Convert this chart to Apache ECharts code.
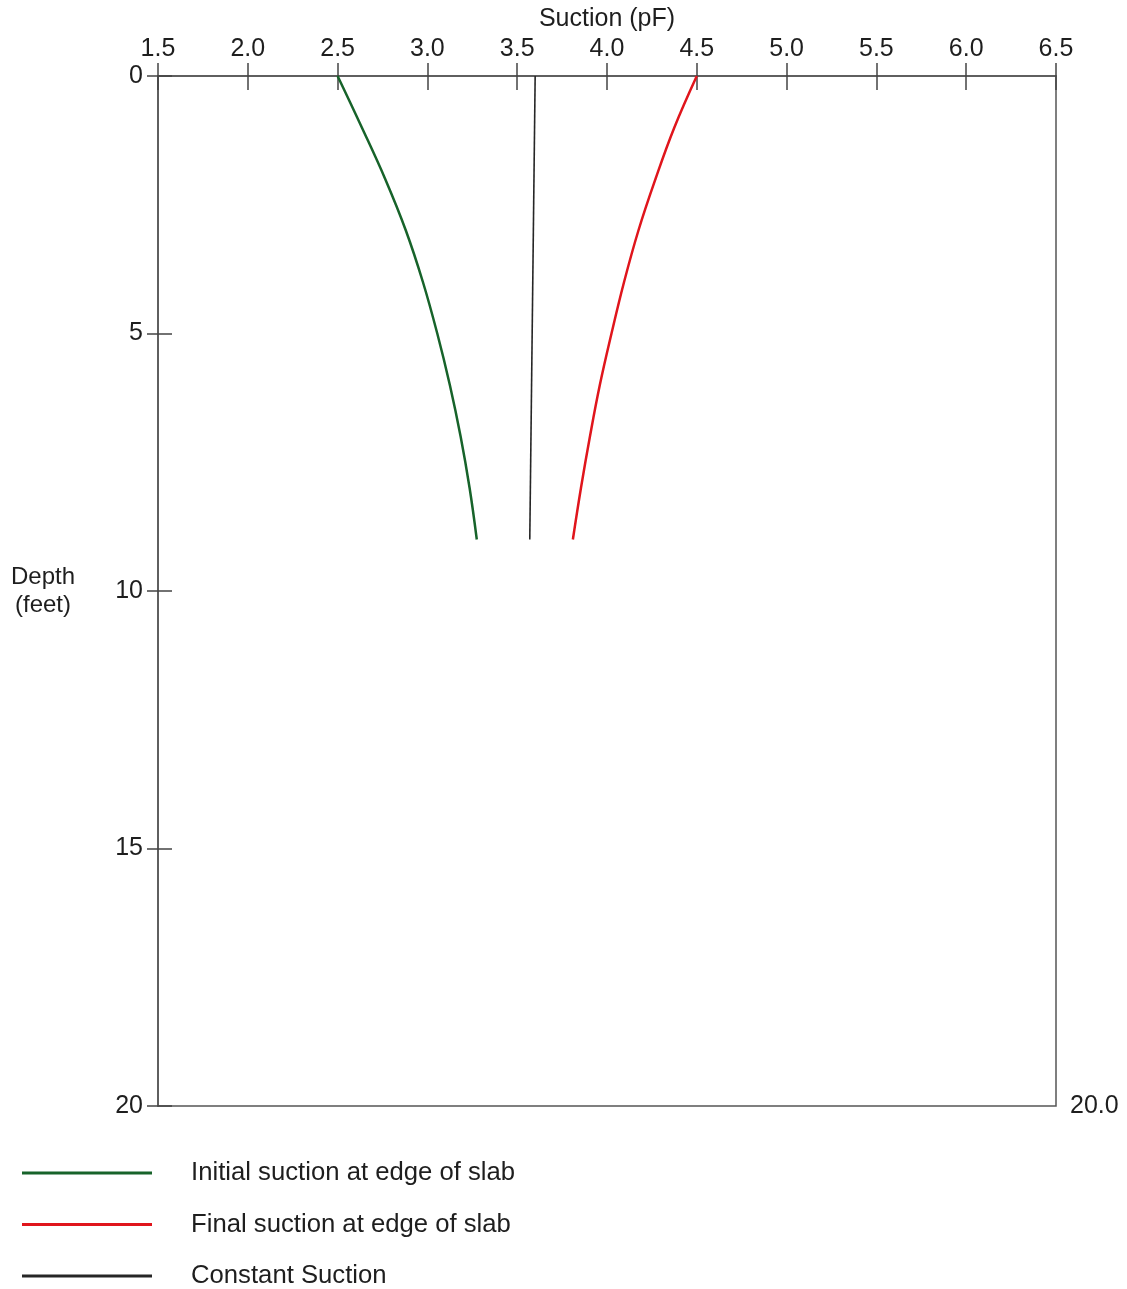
<!DOCTYPE html>
<html>
<head>
<meta charset="utf-8">
<title>Suction profile</title>
<script src="https://cdn.jsdelivr.net/npm/echarts@6/dist/echarts.min.js"></script>
<style>
  html, body { margin: 0; padding: 0; background: #ffffff; }
  #chart { width: 1127px; height: 1289px; }
</style>
</head>
<body>
<div id="chart"></div>
<script>
// Depth below surface (feet)
var depthFeet = [0, 1, 2, 3, 4, 5, 6, 7, 8, 9];
// Suction (pF) at each depth
var initialSuction = [2.500, 2.635, 2.765, 2.880, 2.975, 3.055, 3.125, 3.185, 3.235, 3.275];
var finalSuction   = [4.500, 4.375, 4.270, 4.175, 4.095, 4.025, 3.960, 3.905, 3.855, 3.810];
var constantDepth   = [0, 9];
var constantSuction = [3.60, 3.57];

var suctionTicks = ['1.5', '2.0', '2.5', '3.0', '3.5', '4.0', '4.5', '5.0', '5.5', '6.0', '6.5'];
var depthTicks = [0, 5, 10, 15, 20];

var seriesNames = [
  'Initial suction at edge of slab',
  'Final suction at edge of slab',
  'Constant Suction'
];
var seriesColors = ['#17632a', '#e0151c', '#262626'];

function pairs(xs, ys) {
  return xs.map(function (x, i) { return [x, ys[i]]; });
}

var FONT = '"Liberation Sans", Arial, sans-serif';
var AXIS_COLOR = '#555555';
var TEXT_COLOR = '#1e1e1e';

var chart = echarts.init(document.getElementById('chart'), null, { renderer: 'canvas' });

var xBase = { type: 'value', min: 1.5, max: 6.5, interval: 0.5, splitLine: { show: false } };
var yBase = { type: 'value', min: 0, max: 20, interval: 5, inverse: true, splitLine: { show: false } };

chart.setOption({
  animation: false,
  backgroundColor: '#ffffff',
  grid: {
    left: 158, right: 71, top: 76, bottom: 183, containLabel: false,
    show: true, borderColor: AXIS_COLOR, borderWidth: 1.5, backgroundColor: 'transparent'
  },
  xAxis: [
    Object.assign({}, xBase, {
      position: 'top',
      name: 'Suction (pF)',
      nameLocation: 'middle',
      nameGap: 43,
      nameTextStyle: { fontFamily: FONT, fontSize: 25, color: TEXT_COLOR },
      axisLine: { show: true, lineStyle: { color: AXIS_COLOR, width: 1.5 } },
      axisTick: { show: true, inside: false, length: 13, lineStyle: { color: '#444', width: 1.5 } },
      axisLabel: {
        fontFamily: FONT, fontSize: 25, color: TEXT_COLOR, margin: 14,
        formatter: function (v) { return suctionTicks[Math.round((v - 1.5) / 0.5)]; }
      }
    }),
    Object.assign({}, xBase, {
      position: 'top',
      axisLine: { show: false },
      axisTick: { show: true, inside: true, length: 14, lineStyle: { color: '#444', width: 1.5 } },
      axisLabel: { show: false }
    })
  ],
  yAxis: [
    Object.assign({}, yBase, {
      position: 'left',
      name: 'Depth\n(feet)',
      nameLocation: 'middle',
      nameRotate: 0,
      nameGap: 115,
      nameTextStyle: { fontFamily: FONT, fontSize: 24, color: TEXT_COLOR, align: 'center', verticalAlign: 'middle', lineHeight: 28 },
      axisLine: { show: true, lineStyle: { color: AXIS_COLOR, width: 1.5 } },
      axisTick: { show: true, inside: false, length: 11, lineStyle: { color: '#444', width: 1.5 } },
      axisLabel: {
        fontFamily: FONT, fontSize: 25, color: TEXT_COLOR, margin: 15, padding: [6, 0, 0, 0],
        formatter: function (v) { return depthTicks.indexOf(v) >= 0 ? String(v) : ''; }
      }
    }),
    Object.assign({}, yBase, {
      position: 'left',
      axisLine: { show: false },
      axisTick: { show: true, inside: true, length: 14, lineStyle: { color: '#444', width: 1.5 } },
      axisLabel: { show: false }
    }),
    Object.assign({}, yBase, {
      position: 'right',
      axisLine: { show: false },
      axisTick: { show: false },
      axisLabel: {
        fontFamily: FONT, fontSize: 25, color: TEXT_COLOR, margin: 14, padding: [2, 0, 0, 0],
        formatter: function (v) { return v === 20 ? '20.0' : ''; }
      }
    })
  ],
  legend: {
    orient: 'vertical',
    left: 22,
    top: 1160,
    padding: 0,
    icon: 'rect',
    itemWidth: 130,
    itemHeight: 3,
    itemGap: 25.5,
    selectedMode: false,
    data: seriesNames,
    textStyle: { fontFamily: FONT, fontSize: 25.7, color: TEXT_COLOR, lineHeight: 26, padding: [0, 0, 0, 34] }
  },
  series: [
    {
      name: seriesNames[0],
      type: 'line',
      xAxisIndex: 0, yAxisIndex: 0,
      data: pairs(initialSuction, depthFeet),
      smooth: 0.4,
      symbol: 'none',
      lineStyle: { color: seriesColors[0], width: 2.5 },
      itemStyle: { color: seriesColors[0] }
    },
    {
      name: seriesNames[1],
      type: 'line',
      xAxisIndex: 0, yAxisIndex: 0,
      data: pairs(finalSuction, depthFeet),
      smooth: 0.4,
      symbol: 'none',
      lineStyle: { color: seriesColors[1], width: 2.5 },
      itemStyle: { color: seriesColors[1] }
    },
    {
      name: seriesNames[2],
      type: 'line',
      xAxisIndex: 0, yAxisIndex: 0,
      data: pairs(constantSuction, constantDepth),
      symbol: 'none',
      lineStyle: { color: seriesColors[2], width: 1.6 },
      itemStyle: { color: seriesColors[2] }
    }
  ]
});
</script>
</body>
</html>
